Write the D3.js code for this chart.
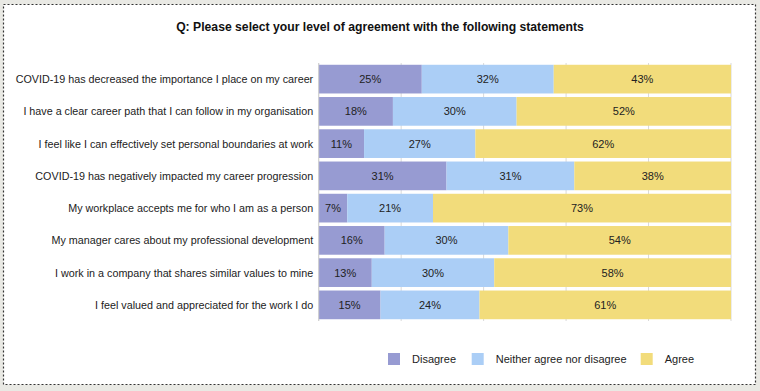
<!DOCTYPE html>
<html><head><meta charset="utf-8">
<script src="https://cdn.jsdelivr.net/npm/d3@7"></script>
<style>
html,body{margin:0;padding:0;background:#e9e9e4;}
svg{display:block;}
</style></head>
<body>
<svg id="chart" width="760" height="391"></svg>
<script>
const title = "Q: Please select your level of agreement with the following statements";
const categories = [
  "COVID-19 has decreased the importance I place on my career",
  "I have a clear career path that I can follow in my organisation",
  "I feel like I can effectively set personal boundaries at work",
  "COVID-19 has negatively impacted my career progression",
  "My workplace accepts me for who I am as a person",
  "My manager cares about my professional development",
  "I work in a company that shares similar values to mine",
  "I feel valued and appreciated for the work I do"
];
const seriesNames = ["Disagree", "Neither agree nor disagree", "Agree"];
const disagree = [25, 18, 11, 31, 7, 16, 13, 15];
const neither  = [32, 30, 27, 31, 21, 30, 30, 24];
const agree    = [43, 52, 62, 38, 73, 54, 58, 61];
const colors = ["#979bd2", "#abcef6", "#f2dc7b"];
const xTicks = [0, 0.2, 0.4, 0.6, 0.8, 1];

const svg = d3.select("#chart");
svg.append("rect").attr("x", 3.5).attr("y", 4.5).attr("width", 752).attr("height", 380)
  .attr("fill", "#fff").attr("stroke", "#333").attr("stroke-width", 1.2).attr("stroke-dasharray", "2,2");

svg.append("text").attr("x", 380).attr("y", 31).attr("text-anchor", "middle")
  .attr("font-family", "Liberation Sans, Arial, sans-serif").attr("font-size", 12.2).attr("font-weight", "bold")
  .attr("fill", "#111").text(title);

const m = {left: 318.7, right: 731, top: 63, bottom: 321};
const x = d3.scaleLinear().domain([0, 1]).range([m.left, m.right]);
const y = d3.scaleBand().domain(categories).range([m.top, m.bottom]).paddingInner(0.11).paddingOuter(0.055);

svg.append("g").selectAll("line").data(xTicks).join("line")
  .attr("x1", d => x(d)).attr("x2", d => x(d))
  .attr("y1", m.top).attr("y2", m.bottom)
  .attr("stroke", "#d9d9d9").attr("stroke-width", 1);

const stackData = categories.map((c, i) => ({cat: c, Disagree: disagree[i], "Neither agree nor disagree": neither[i], Agree: agree[i]}));
const stack = d3.stack().keys(seriesNames).offset(d3.stackOffsetExpand)(stackData);

const g = svg.append("g");
stack.forEach((s, si) => {
  const key = seriesNames[si];
  const sg = g.append("g");
  sg.selectAll("rect").data(s).join("rect")
    .attr("x", d => x(d[0])).attr("width", d => x(d[1]) - x(d[0]))
    .attr("y", d => y(d.data.cat)).attr("height", y.bandwidth())
    .attr("fill", colors[si]);
  sg.selectAll("text").data(s).join("text")
    .attr("x", d => (x(d[0]) + x(d[1])) / 2)
    .attr("y", d => y(d.data.cat) + y.bandwidth() / 2 + 4)
    .attr("text-anchor", "middle")
    .attr("font-family", "Liberation Sans, Arial, sans-serif").attr("font-size", 11)
    .attr("fill", "#222")
    .text(d => d.data[key] + "%");
});

svg.append("g").selectAll("text").data(categories).join("text")
  .attr("x", m.left - 5.5).attr("y", d => y(d) + y.bandwidth() / 2 + 4)
  .attr("text-anchor", "end")
  .attr("font-family", "Liberation Sans, Arial, sans-serif").attr("font-size", 10.75)
  .attr("fill", "#222").text(d => d);

svg.append("line").attr("x1", m.left).attr("x2", m.left).attr("y1", m.top).attr("y2", m.bottom)
  .attr("stroke", "#d0d0d0");

const legendX = [388, 471.7, 640.7];
const lg = svg.append("g");
seriesNames.forEach((n, i) => {
  lg.append("rect").attr("x", legendX[i]).attr("y", 353).attr("width", 12).attr("height", 12).attr("fill", colors[i]);
  lg.append("text").attr("x", legendX[i] + 24).attr("y", 363).attr("font-family", "Liberation Sans, Arial, sans-serif")
    .attr("font-size", 11).attr("fill", "#222").text(n);
});
</script>
</body></html>
